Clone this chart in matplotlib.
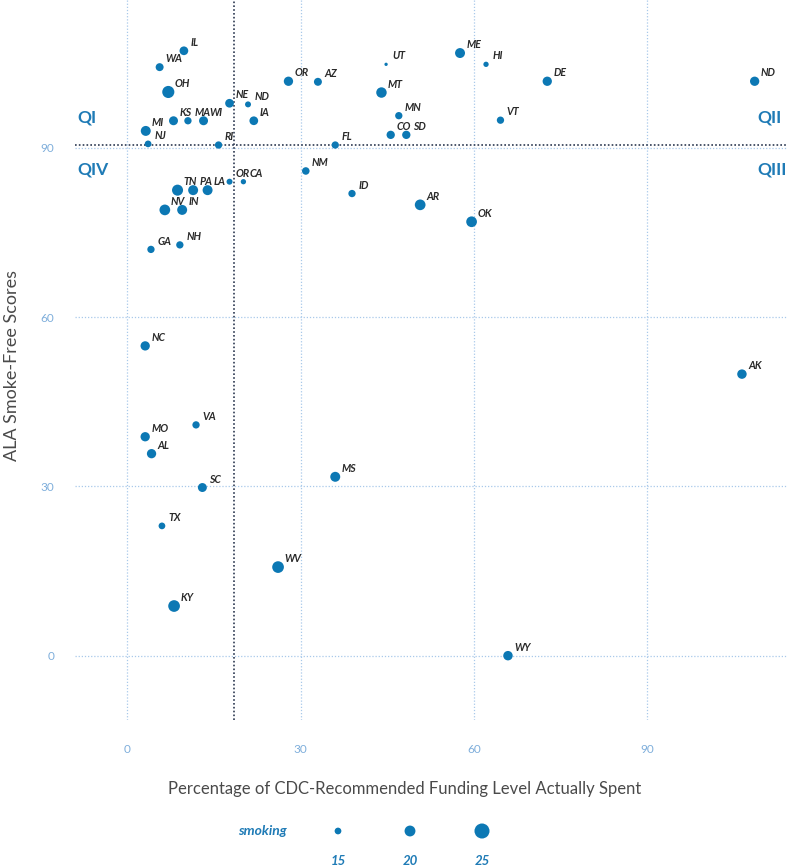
import matplotlib
matplotlib.use("Agg")
import matplotlib.pyplot as plt

plt.rcParams['font.family'] = ['Lato', 'DejaVu Sans']

# state, % of CDC-recommended funding spent, ALA smoke-free score, adult smoking rate
states = ['IL', 'WA', 'OH', 'KS', 'MA', 'WI', 'MI', 'NJ', 'RI', 'NE', 'ND', 'IA',
          'OR', 'AZ', 'UT', 'MT', 'MN', 'CO', 'SD', 'FL', 'NM', 'ID', 'AR', 'OK',
          'ME', 'HI', 'DE', 'VT', 'ND', 'TN', 'PA', 'LA', 'OR', 'CA', 'NV', 'IN',
          'GA', 'NH', 'NC', 'VA', 'MO', 'AL', 'SC', 'MS', 'TX', 'WV', 'KY', 'AK', 'WY']
funding = [9.8, 5.6, 7.1, 8.0, 10.5, 13.2, 3.2, 3.6, 15.8, 17.7, 20.9, 21.9,
           27.9, 33.0, 44.8, 44.0, 47.0, 45.6, 48.3, 36.0, 30.9, 38.9, 50.7, 59.6,
           57.6, 62.1, 72.7, 64.6, 108.6, 8.7, 11.4, 13.9, 17.7, 20.1, 6.5, 9.5,
           4.1, 9.1, 3.1, 11.9, 3.1, 4.2, 13.0, 36.0, 6.0, 26.1, 8.1, 106.4, 65.9]
scores = [107.2, 104.3, 99.9, 94.8, 94.8, 94.8, 93.0, 90.7, 90.5, 97.9, 97.7, 94.8,
          101.8, 101.7, 104.8, 99.8, 95.7, 92.3, 92.3, 90.5, 85.9, 81.9, 79.9, 76.9,
          106.8, 104.8, 101.8, 94.9, 101.8, 82.5, 82.5, 82.5, 84.0, 84.0, 79.0, 79.0,
          72.0, 72.8, 54.9, 40.9, 38.8, 35.8, 29.8, 31.7, 23.0, 15.7, 8.8, 49.9, 0.0]
smoking = [17.4, 16.5, 21.5, 17.7, 15.7, 17.7, 18.9, 15.0, 15.7, 17.4, 14.1, 17.4,
           18.1, 16.5, 10.9, 19.5, 15.7, 16.9, 16.9, 15.7, 16.0, 15.7, 19.8, 19.8,
           18.9, 13.3, 18.1, 15.7, 18.1, 20.2, 18.9, 18.9, 14.1, 13.3, 19.8, 18.9,
           15.7, 15.7, 18.1, 15.7, 18.1, 18.1, 17.7, 18.9, 15.0, 21.0, 21.0, 18.3, 18.3]

legend_sizes = [15, 20, 25]
ticks = [0, 30, 60, 90]
median_funding = 18.55
median_score = 90.5
quadrants = [('QI', -8.6, 95.3), ('QIV', -8.6, 86.1), ('QII', 109.0, 95.3), ('QIII', 109.0, 86.1)]

BLUE = '#0c78b4'
QBLUE = '#1f7bb6'
TICK = '#7eaedb'
GRID = '#a9c9ea'
NAVY = '#2d3a52'
LABEL = '#4a4a4a'


def area(s):
    # diameter in px grows linearly with the smoking rate
    d = 0.83 * (s - 6.9)
    return (d * 0.72) ** 2


fig = plt.figure(figsize=(7.87, 8.68), dpi=100)
W, H = 787, 868
ax = fig.add_axes([75 / W, (H - 720) / H, 712 / W, 720 / H])

ax.set_xlim(-9.05, 114.2)
ax.set_ylim(-11.4, 116.2)
for s in ax.spines.values():
    s.set_visible(False)

ax.set_xticks(ticks)
ax.set_yticks(ticks)
ax.grid(True, color=GRID, linestyle=(0, (1, 1.5)), linewidth=0.9)
ax.set_axisbelow(True)
ax.tick_params(length=0, colors=TICK, labelsize=8.5)
ax.tick_params(axis='x', pad=17)
ax.tick_params(axis='y', pad=15)

ax.axvline(median_funding, color=NAVY, linestyle=(0, (1, 1.3)), linewidth=1.2, zorder=1)
ax.axhline(median_score, color=NAVY, linestyle=(0, (1, 1.3)), linewidth=1.2, zorder=1)

ax.scatter(funding, scores, s=[area(v) for v in smoking], color=BLUE,
           edgecolors='none', zorder=3)
for st, x, y in zip(states, funding, scores):
    ax.annotate(st, (x, y), xytext=(4.5, 6), textcoords='offset points',
                ha='left', va='center', fontsize=7.6, fontweight='bold',
                fontstyle='italic', color='#2a2a2a', zorder=4)

for q, x, y in quadrants:
    ax.text(x, y, q, ha='left', va='center', fontsize=12.5,
            fontweight='bold', color=QBLUE)

fig.text(12 / W, 1 - 365 / H, 'ALA Smoke-Free Scores', rotation=90,
         ha='center', va='center', fontsize=13, color=LABEL)
fig.text(405 / W, 1 - 789 / H, 'Percentage of CDC-Recommended Funding Level Actually Spent',
         ha='center', va='center', fontsize=12, color=LABEL)

# size legend
lg = fig.add_axes([302 / W, (H - 847) / H, 216 / W, 32 / H])
lg.set_xlim(-0.5, 2.5)
lg.set_ylim(-1, 1)
lg.scatter(range(len(legend_sizes)), [0] * len(legend_sizes),
           s=[area(v) for v in legend_sizes], color=BLUE, edgecolors='none')
lg.set_xticks(range(len(legend_sizes)))
lg.set_xticklabels([str(v) for v in legend_sizes])
lg.set_yticks([])
lg.tick_params(length=0, pad=6, labelcolor=QBLUE)
for t in lg.get_xticklabels():
    t.set_fontweight('bold')
    t.set_fontstyle('italic')
    t.set_fontsize(9.5)
for s in lg.spines.values():
    s.set_visible(False)
lg.patch.set_alpha(0)
lg.text(-0.185, 0.5, 'smoking', transform=lg.transAxes, ha='center', va='center',
        fontsize=10, fontweight='bold', fontstyle='italic', color=QBLUE)

fig.savefig('out.png', dpi=100)
